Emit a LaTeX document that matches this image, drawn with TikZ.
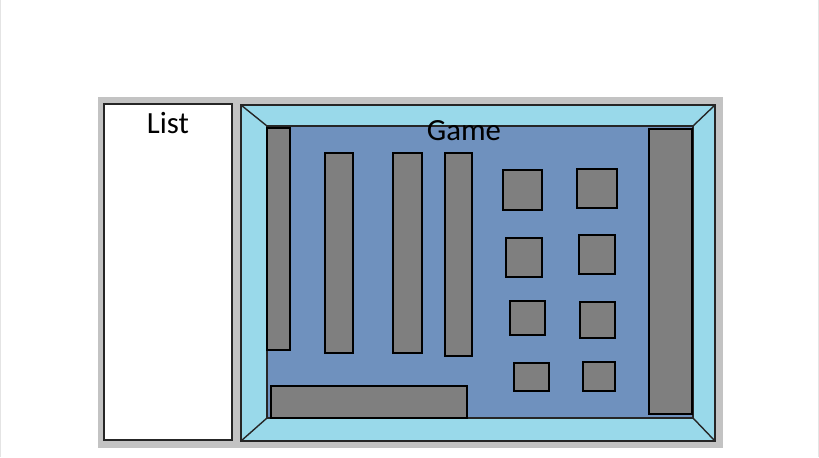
\documentclass[tikz,border=0pt]{standalone}
\usepackage{fontspec}
\setmainfont{Carlito}
\definecolor{frameblue}{HTML}{99D9EA}
\definecolor{fieldblue}{HTML}{6F91BE}
\definecolor{blockgray}{HTML}{7F7F7F}
\definecolor{backgray}{HTML}{C3C3C3}
\definecolor{edgegray}{HTML}{E4E4E4}
\tikzset{
  block/.style={draw=black,fill=blockgray,line width=0.7pt},
  pane/.style={draw=black!85,line width=0.7pt},
  lbl/.style={anchor=base,inner sep=0pt,font=\fontsize{15.4}{18}\selectfont}
}
\begin{document}
\begin{tikzpicture}[x=0.5pt,y=-0.5pt]
\useasboundingbox (0,0) rectangle (819,457);
\draw[edgegray] (0.5,0) -- (0.5,457);
\draw[edgegray] (818,0) -- (818,457);
\fill[backgray] (98,97) rectangle (723,448);

% list pane
\draw[pane,fill=white] (104,104) rectangle (232,440);
\node[lbl] (list) at (168,133) {List};

% game pane
\coordinate (go1) at (241,105);
\coordinate (go2) at (715,105);
\coordinate (go3) at (715,441);
\coordinate (go4) at (241,441);
\coordinate (gi1) at (267,126);
\coordinate (gi2) at (693,126);
\coordinate (gi3) at (693,418);
\coordinate (gi4) at (267,418);
\draw[pane,fill=frameblue] (go1) rectangle (go3);
\draw[pane,fill=fieldblue] (gi1) rectangle (gi3);
\foreach \k in {1,...,4}{
\draw[pane] (go\k) -- (gi\k);
}
\node[lbl] (game) at (464,140) {Game};

% bars
\foreach \x/\y/\w/\h in {267/128/23/222, 325/153/28/200, 393/153/29/200, 445/153/27/203, 271/386/196/32, 649/129/43/285}{
\draw[block] (\x,\y) rectangle ++(\w,\h);
}
% squares
\foreach \x/\y/\w/\h in {503/170/39/40, 506/238/36/39, 510/301/35/34, 514/363/35/28, 577/169/40/39, 579/235/36/39, 580/302/35/36, 583/362/32/29}{
\draw[block] (\x,\y) rectangle ++(\w,\h);
}
\end{tikzpicture}
\end{document}
